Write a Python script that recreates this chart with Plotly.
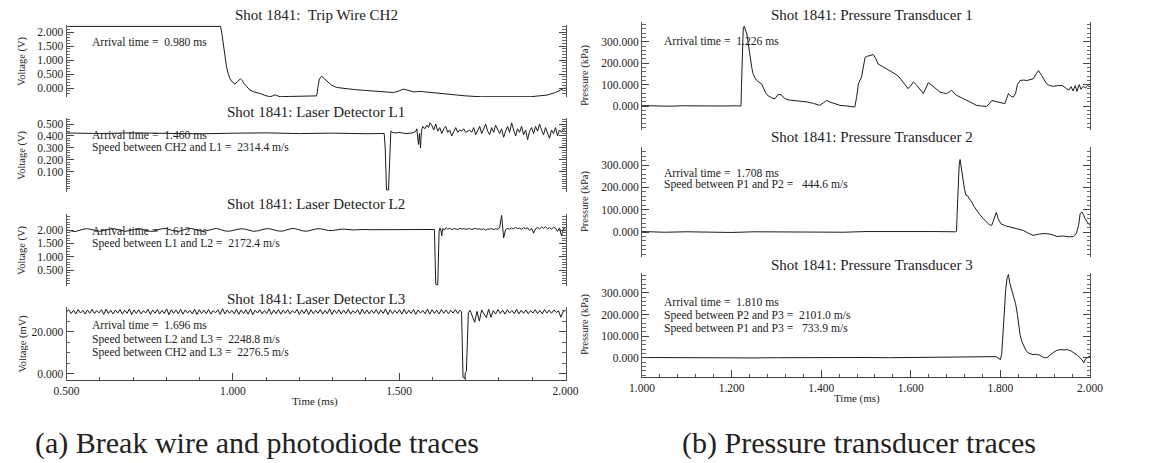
import numpy as np
import plotly.graph_objects as go

W, H = 1163, 463
FONT = "Liberation Serif"
INK = "#222222"

# ---------------- Trip wire CH2 (V) ----------------
ch2_t = [0.50, 0.60, 0.70, 0.80, 0.90, 0.963, 0.967, 0.971, 0.976, 0.981, 0.986, 0.991,
         0.998, 1.006, 1.014, 1.023, 1.028, 1.033, 1.042, 1.051, 1.066, 1.081, 1.096, 1.111,
         1.120, 1.127, 1.135, 1.142, 1.170, 1.200, 1.222, 1.252, 1.256, 1.260, 1.267, 1.275,
         1.282, 1.297, 1.312, 1.337, 1.362, 1.392, 1.423, 1.453, 1.483, 1.500, 1.513, 1.530,
         1.543, 1.563, 1.600, 1.644, 1.700, 1.744, 1.800, 1.850, 1.895, 1.945, 1.970, 1.985, 2.000]
ch2_v = [2.20, 2.20, 2.21, 2.20, 2.20, 2.20, 1.95, 1.60, 1.15, 0.76, 0.52, 0.35,
         0.22, 0.14, 0.23, 0.33, 0.27, 0.17, 0.05, -0.07, -0.15, -0.19, -0.26, -0.31,
         -0.28, -0.24, -0.28, -0.31, -0.30, -0.30, -0.30, -0.28, 0.05, 0.32, 0.42, 0.34,
         0.24, 0.10, 0.02, -0.02, -0.05, -0.08, -0.10, -0.13, -0.16, -0.10, -0.04, -0.09,
         -0.14, -0.12, -0.17, -0.23, -0.28, -0.31, -0.31, -0.31, -0.31, -0.25, -0.16, -0.07, 0.02]

# ---------------- Laser detector L1 (V) ----------------
l1_pre_t = [0.50, 0.60, 0.70, 0.80, 0.90, 1.00, 1.10, 1.20, 1.30, 1.40, 1.455]
l1_pre_v = [0.425, 0.421, 0.426, 0.420, 0.418, 0.423, 0.426, 0.420, 0.424, 0.419, 0.421]
l1_dip_t = [1.458, 1.460, 1.462, 1.468, 1.470, 1.472, 1.475, 1.480, 1.490, 1.500, 1.520, 1.540,
            1.550, 1.553, 1.556, 1.558, 1.561, 1.564, 1.567, 1.571, 1.577, 1.583, 1.588, 1.593]
l1_dip_v = [0.30, 0.02, -0.05, -0.05, 0.10, 0.38, 0.44, 0.43, 0.425, 0.43, 0.42, 0.425,
            0.44, 0.46, 0.40, 0.33, 0.42, 0.30, 0.44, 0.48, 0.46, 0.49, 0.47, 0.51]
l1_post_t0, l1_post_dt = 1.598, 0.006
l1_post_v = [0.49, 0.45, 0.50, 0.44, 0.47, 0.42, 0.46, 0.48, 0.43, 0.45,
             0.40, 0.44, 0.47, 0.43, 0.45, 0.44, 0.46, 0.43, 0.44, 0.45,
             0.43, 0.47, 0.41, 0.45, 0.48, 0.42, 0.46, 0.50, 0.44, 0.41,
             0.47, 0.43, 0.49, 0.45, 0.42, 0.46, 0.39, 0.44, 0.48, 0.43,
             0.51, 0.45, 0.40, 0.46, 0.43, 0.48, 0.41, 0.45, 0.37, 0.44,
             0.47, 0.42, 0.48, 0.44, 0.50, 0.45, 0.41, 0.47, 0.43, 0.38,
             0.45, 0.42, 0.47, 0.40, 0.45, 0.43, 0.46, 0.44]

# ---------------- Laser detector L2 (V) ----------------
l2_pre_t0, l2_pre_dt = 0.50, 0.0125
l2_pre_v = [2.00, 1.96, 1.94, 1.98, 2.03, 2.05, 2.02, 1.97, 1.95, 1.98,
            2.03, 2.06, 2.03, 1.98, 1.95, 1.97, 2.02, 2.05, 2.04, 1.99,
            1.95, 1.96, 2.01, 2.05, 2.05, 2.00, 1.96, 1.95, 2.00, 2.04,
            2.06, 2.01, 1.97, 1.95, 1.99, 2.04, 2.06, 2.02, 1.97, 1.95,
            1.98, 2.03, 2.05, 2.03, 1.98, 1.95, 1.97, 2.02, 2.05, 2.04,
            1.99, 1.96, 1.96, 2.01, 2.05, 2.05, 2.00, 1.96, 1.96, 2.00,
            2.04, 2.05, 2.01, 1.98, 1.98, 2.01, 2.03, 2.03, 2.01, 2.00,
            2.01, 2.02, 2.02, 2.01, 2.01, 2.02, 2.02]
l2_dip_t = [1.470, 1.520, 1.560, 1.600, 1.606, 1.608, 1.610, 1.616, 1.618, 1.620, 1.623,
            1.626, 1.628, 1.631, 1.636, 1.641]
l2_dip_v = [2.02, 2.02, 2.03, 2.02, 2.02, 1.00, -0.04, -0.06, 0.90, 1.95, 2.08,
            1.96, 1.78, 2.06, 2.00, 2.09]
l2_post_t0, l2_post_dt = 1.646, 0.006
l2_post_v = [2.03, 2.07, 2.01, 2.05, 2.04, 2.02, 2.06, 2.04, 2.05, 2.03,
             2.04, 2.05, 2.02, 2.04, 2.06, 2.03, 2.04, 2.02, 2.05, 1.99,
             2.04, 2.03, 2.05, 2.02, 2.04, 2.03, 2.08, 2.55, 1.70, 2.02,
             2.06, 2.03, 2.08, 2.04, 2.10, 2.05, 2.07, 2.02, 2.09, 2.05,
             2.08, 1.99, 2.06, 1.88, 2.05, 2.09, 2.04, 2.11, 2.06, 2.12,
             2.05, 2.09, 2.03, 2.10, 2.07, 1.95, 2.08, 1.78, 2.06, 2.03]

# ---------------- Laser detector L3 (mV) ----------------
l3_pre_t0, l3_pre_dt = 0.50, 0.007
l3_pre_v = [29.6, 30.6, 28.8, 30.4, 28.6, 30.7, 29.0, 30.3, 28.5, 30.5,
            28.9, 30.8, 28.7, 30.2, 29.1, 30.6, 28.4, 30.9, 28.8, 30.3,
            28.6, 30.5, 29.0, 30.7, 28.5, 30.4, 28.9, 31.0, 28.3, 30.5,
            28.8, 30.6, 28.6, 30.2, 29.0, 30.8, 28.4, 30.5, 28.9, 30.7,
            28.6, 30.3, 28.8, 31.0, 28.2, 30.6, 28.9, 30.4, 28.7, 30.8,
            28.5, 30.5, 29.0, 30.3, 28.6, 30.9, 28.3, 30.6, 28.8, 30.4,
            28.7, 30.7, 28.5, 30.2, 29.1, 30.6, 28.4, 31.1, 28.6, 30.5,
            28.9, 30.3, 28.7, 30.8, 28.4, 30.5, 28.8, 30.6, 28.5, 30.9,
            28.3, 30.4, 29.0, 30.6, 28.6, 30.3, 28.8, 31.0, 28.4, 30.5,
            28.7, 30.7, 28.5, 30.4, 28.9, 30.6, 28.6, 30.2, 29.0, 30.8,
            28.4, 30.5, 28.8, 30.9, 28.3, 30.6, 28.7, 30.4, 28.9, 30.7,
            28.5, 30.3, 28.8, 31.0, 28.4, 30.5, 28.9, 30.6, 28.6, 30.4,
            28.8, 30.8, 28.5, 30.2, 29.0, 30.6, 28.4, 30.9, 28.7, 30.5,
            28.6, 30.4, 28.9, 30.7, 28.5, 30.5, 28.8, 31.0, 28.3, 30.6,
            28.7, 30.3, 28.9, 30.6, 28.5, 30.8, 28.6, 30.4, 28.8, 30.7,
            28.4, 30.5, 29.0, 30.3, 28.7, 30.9, 28.5, 30.6, 28.8, 30.4,
            28.6, 30.7, 28.9, 30.5, 28.7, 30.3, 29.0, 30.6, 28.8, 30.4]
l3_dip_t = [1.6875, 1.690, 1.692, 1.697, 1.699, 1.702, 1.704, 1.706, 1.708]
l3_dip_v = [29.6, 14.0, -1.5, -2.2, 0.8, 1.2, 8.0, 22.0, 29.2]
l3_post_t0, l3_post_dt = 1.713, 0.007
l3_post_v = [30.4, 27.6, 24.6, 29.8, 25.2, 30.5, 28.4, 26.8, 30.9, 27.0,
             30.2, 28.6, 30.7, 28.8, 30.4, 28.5, 30.6, 29.0, 30.3, 28.7,
             30.8, 28.6, 30.4, 28.9, 30.5, 28.7, 30.2, 29.0, 30.6, 28.8,
             30.3, 28.6, 30.7, 29.0, 30.4, 28.9, 30.5, 29.3, 30.1, 27.0,
             29.8, 30.2]

# ---------------- Pressure transducer 1 (kPa) ----------------
p1_t = [1.000, 1.030, 1.060, 1.090, 1.120, 1.150, 1.180, 1.210, 1.221, 1.222, 1.224, 1.226,
        1.228, 1.231, 1.234, 1.238, 1.241, 1.245, 1.248, 1.254, 1.260, 1.267, 1.271, 1.275,
        1.280, 1.286, 1.291, 1.297, 1.304, 1.311, 1.319, 1.328, 1.338, 1.353, 1.368, 1.383,
        1.397, 1.405, 1.412, 1.420, 1.430, 1.442, 1.458, 1.475, 1.479, 1.483, 1.490, 1.498,
        1.503, 1.509, 1.516, 1.521, 1.527, 1.536, 1.546, 1.556, 1.565, 1.574, 1.583, 1.594,
        1.600, 1.606, 1.612, 1.617, 1.623, 1.628, 1.634, 1.639, 1.645, 1.650, 1.658, 1.665,
        1.673, 1.680, 1.686, 1.691, 1.697, 1.702, 1.714, 1.725, 1.736, 1.747, 1.758, 1.769,
        1.775, 1.781, 1.788, 1.795, 1.802, 1.810, 1.814, 1.818, 1.824, 1.829, 1.834, 1.838,
        1.844, 1.852, 1.859, 1.866, 1.873, 1.880, 1.885, 1.892, 1.898, 1.903, 1.910, 1.918,
        1.928, 1.938, 1.948, 1.953, 1.958, 1.962, 1.967, 1.971, 1.976, 1.980, 1.985, 1.990,
        1.995, 2.000]
p1_v = [2, 0, -1, 1, 0, -1, 0, 1, 0, 90, 250, 365,
        372, 355, 336, 280, 227, 180, 150, 125, 112, 103, 85, 65,
        50, 42, 36, 34, 55, 52, 34, 28, 26, 22, 19, 12,
        3, 15, 26, 18, 10, 3, 0, -5, 40, 103, 135, 227,
        232, 235, 240, 225, 196, 185, 173, 160, 150, 135, 112, 81,
        95, 112, 100, 89, 72, 58, 90, 108, 100, 92, 78, 65,
        60, 58, 66, 73, 60, 50, 38, 26, 14, 3, 0, -2,
        10, 26, 22, 19, 15, 11, 35, 58, 45, 42, 60, 100,
        119, 121, 119, 122, 127, 150, 165, 142, 120, 104, 95, 92,
        95, 96, 80, 75, 90, 70, 95, 68, 100, 78, 92, 84,
        96, 89]

# ---------------- Pressure transducer 2 (kPa) ----------------
p2_t = [1.000, 1.050, 1.100, 1.150, 1.200, 1.250, 1.300, 1.350, 1.400, 1.450, 1.500, 1.550,
        1.600, 1.650, 1.700, 1.702, 1.703, 1.705, 1.708, 1.710, 1.713, 1.717, 1.720, 1.723,
        1.727, 1.731, 1.736, 1.741, 1.747, 1.754, 1.762, 1.768, 1.773, 1.778, 1.781, 1.785,
        1.789, 1.791, 1.795, 1.801, 1.811, 1.821, 1.836, 1.851, 1.862, 1.873, 1.885, 1.896,
        1.906, 1.916, 1.926, 1.940, 1.955, 1.963, 1.970, 1.975, 1.978, 1.982, 1.986, 1.989,
        1.994, 2.000]
p2_v = [2, -1, 1, 0, -2, 1, 0, 2, 1, -1, 2, 3,
        1, 2, 1, 3, 60, 200, 300, 325, 280, 217, 190, 165,
        162, 148, 135, 115, 97, 78, 60, 46, 37, 30, 31, 55,
        85, 88, 60, 37, 28, 22, 14, 7, -5, -15, -10, -7,
        -8, -12, -20, -18, -22, -20, -5, 35, 82, 90, 75, 60,
        45, 30]

# ---------------- Pressure transducer 3 (kPa) ----------------
p3_t = [1.000, 1.050, 1.100, 1.150, 1.200, 1.250, 1.300, 1.350, 1.400, 1.450, 1.500, 1.550,
        1.600, 1.650, 1.700, 1.750, 1.790, 1.800, 1.803, 1.806, 1.809, 1.812, 1.815, 1.818,
        1.821, 1.824, 1.827, 1.830, 1.834, 1.838, 1.841, 1.844, 1.848, 1.852, 1.857, 1.862,
        1.868, 1.873, 1.880, 1.887, 1.894, 1.900, 1.905, 1.911, 1.918, 1.926, 1.933, 1.942,
        1.950, 1.958, 1.965, 1.972, 1.978, 1.982, 1.986, 1.990, 1.995, 2.000]
p3_v = [2, 1, 0, 2, 1, 0, 1, 2, 0, 1, 2, 1,
        2, 3, 2, 3, 6, -8, 20, 120, 230, 320, 370, 385,
        345, 325, 300, 280, 250, 200, 150, 105, 75, 55, 35, 23,
        18, 15, 17, 13, 5, 0, 3, 15, 25, 35, 38, 37,
        38, 32, 23, 12, 0, -8, -23, -5, 2, 8]

# ---------------- Text ----------------
left_titles = ["Shot 1841:  Trip Wire CH2", "Shot 1841: Laser Detector L1",
               "Shot 1841: Laser Detector L2", "Shot 1841: Laser Detector L3"]
right_titles = ["Shot 1841: Pressure Transducer 1", "Shot 1841: Pressure Transducer 2",
                "Shot 1841: Pressure Transducer 3"]
left_notes = [
    ["Arrival time =  0.980 ms"],
    ["Arrival time =  1.460 ms", "Speed between CH2 and L1 =  2314.4 m/s"],
    ["Arrival time =  1.612 ms", "Speed between L1 and L2 =  2172.4 m/s"],
    ["Arrival time =  1.696 ms", "Speed between L2 and L3 =  2248.8 m/s",
     "Speed between CH2 and L3 =  2276.5 m/s"],
]
right_notes = [
    ["Arrival time =  1.226 ms"],
    ["Arrival time =  1.708 ms", "Speed between P1 and P2 =   444.6 m/s"],
    ["Arrival time =  1.810 ms", "Speed between P2 and P3 =  2101.0 m/s",
     "Speed between P1 and P3 =   733.9 m/s"],
]
left_ylabels = ["Voltage (V)", "Voltage (V)", "Voltage (V)", "Voltage (mV)"]
captions = ["(a) Break wire and photodiode traces", "(b) Pressure transducer traces"]


def uniform(t0, dt, values):
    return list(t0 + dt * np.arange(len(values)))


traces = [
    (ch2_t, ch2_v),
    (l1_pre_t + l1_dip_t + uniform(l1_post_t0, l1_post_dt, l1_post_v),
     l1_pre_v + l1_dip_v + l1_post_v),
    (uniform(l2_pre_t0, l2_pre_dt, l2_pre_v) + l2_dip_t + uniform(l2_post_t0, l2_post_dt, l2_post_v),
     l2_pre_v + l2_dip_v + l2_post_v),
    (uniform(l3_pre_t0, l3_pre_dt, l3_pre_v) + l3_dip_t + uniform(l3_post_t0, l3_post_dt, l3_post_v),
     l3_pre_v + l3_dip_v + l3_post_v),
    (p1_t, p1_v),
    (p2_t, p2_v),
    (p3_t, p3_v),
]


def px(x):
    return x / W


def py(y):
    return 1 - y / H


# pixel boxes (top, bottom) of each panel, with y ranges and ticks
LEFT_X = (66.5, 565.5)
RIGHT_X = (642, 1090)
panels = [
    dict(side="L", box=(25, 97), yr=[-0.32, 2.25], tv=[0, 0.5, 1.0, 1.5, 2.0], minor=0.1),
    dict(side="L", box=(118, 192), yr=[-0.067, 0.55], tv=[0.1, 0.2, 0.3, 0.4, 0.5], minor=0.02),
    dict(side="L", box=(214, 286), yr=[-0.1, 2.6], tv=[0.5, 1.0, 1.5, 2.0], minor=0.1),
    dict(side="L", box=(307, 380), yr=[-2.86, 31.9], tv=[0, 20], minor=5),
    dict(side="R", box=(22, 130), yr=[-112, 392], tv=[0, 100, 200, 300], minor=20),
    dict(side="R", box=(147, 257), yr=[-112, 381], tv=[0, 100, 200, 300], minor=20),
    dict(side="R", box=(273, 377), yr=[-88, 392], tv=[0, 100, 200, 300], minor=20),
]

fig = go.Figure()
layout = {}
for i, (p, (t, v)) in enumerate(zip(panels, traces), start=1):
    sfx = "" if i == 1 else str(i)
    xs = LEFT_X if p["side"] == "L" else RIGHT_X
    bottom = i in (4, 7)
    fig.add_trace(go.Scatter(x=t, y=v, mode="lines", xaxis="x" + sfx, yaxis="y" + sfx,
                             line=dict(color="#1c1c1c", width=1), showlegend=False,
                             hoverinfo="skip"))
    xr = [0.5, 2.0] if p["side"] == "L" else [1.0, 2.0]
    xa = dict(domain=[px(xs[0]), px(xs[1])], range=xr, anchor="y" + sfx,
              showgrid=False, zeroline=False, automargin=False)
    if bottom:
        xa.update(showline=True, linecolor="#444", linewidth=1, ticks="inside", ticklen=7,
                  tickcolor="#444", tickmode="linear", tick0=xr[0],
                  dtick=0.5 if p["side"] == "L" else 0.2, tickformat=".3f",
                  tickfont=dict(family=FONT, size=11.5, color=INK),
                  minor=dict(ticks="inside", ticklen=3, tickcolor="#555",
                             dtick=0.1 if p["side"] == "L" else 0.04, tick0=xr[0]))
    else:
        xa.update(showline=False, showticklabels=False, ticks="")
    layout["xaxis" + sfx] = xa
    layout["yaxis" + sfx] = dict(
        domain=[py(p["box"][1]), py(p["box"][0])], range=p["yr"], anchor="x" + sfx,
        showgrid=False, zeroline=False, showline=True, linecolor="#555", linewidth=1,
        mirror="ticks", ticks="inside", ticklen=7, tickcolor="#444", automargin=False,
        tickmode="array", tickvals=p["tv"], tickformat=".3f",
        tickfont=dict(family=FONT, size=11.5, color=INK),
        minor=dict(ticks="inside", ticklen=3.5, tickcolor="#666", dtick=p["minor"], tick0=0),
    )

fig.update_layout(template="none", **layout)

ann = []
# panel titles
left_title_y = [15, 112, 204, 299]
right_title_y = [15, 137, 265]
for txt, y in zip(left_titles, left_title_y):
    ann.append(dict(text=txt, x=px(316), y=py(y), font=dict(size=15)))
for txt, y in zip(right_titles, right_title_y):
    ann.append(dict(text=txt, x=px(872), y=py(y), font=dict(size=15)))

# measurement notes
left_note_y = [[43], [135, 147], [232, 243], [325, 339, 352]]
right_note_y = [[42], [173, 184], [302, 315, 328]]
for lines, ys in zip(left_notes, left_note_y):
    for txt, y in zip(lines, ys):
        ann.append(dict(text=txt, x=px(90), y=py(y), xanchor="left", font=dict(size=11.6)))
for lines, ys in zip(right_notes, right_note_y):
    for txt, y in zip(lines, ys):
        ann.append(dict(text=txt, x=px(662), y=py(y), xanchor="left", font=dict(size=11.6)))

# axis titles
for txt, p in zip(left_ylabels, panels[:4]):
    ann.append(dict(text=txt, x=px(22), y=py(sum(p["box"]) / 2), textangle=-90,
                    font=dict(size=10.5)))
for p in panels[4:]:
    ann.append(dict(text="Pressure (kPa)", x=px(585), y=py(sum(p["box"]) / 2), textangle=-90,
                    font=dict(size=10.5)))
ann.append(dict(text="Time (ms)", x=px(315), y=py(401), font=dict(size=11)))
ann.append(dict(text="Time (ms)", x=px(857), y=py(398), font=dict(size=11)))

# sub-figure captions
ann.append(dict(text=captions[0], x=px(257), y=py(443), font=dict(size=30)))
ann.append(dict(text=captions[1], x=px(859), y=py(443), font=dict(size=30)))

for a in ann:
    a.setdefault("xanchor", "center")
    a.update(xref="paper", yref="paper", yanchor="middle", showarrow=False)
    a["font"] = dict(family=FONT, color=INK, **a["font"])

fig.update_layout(
    annotations=ann,
    width=W, height=H,
    margin=dict(l=0, r=0, t=0, b=0, pad=0),
    paper_bgcolor="white", plot_bgcolor="white",
    showlegend=False,
)

fig.write_html("out.html", config={"displayModeBar": False})
